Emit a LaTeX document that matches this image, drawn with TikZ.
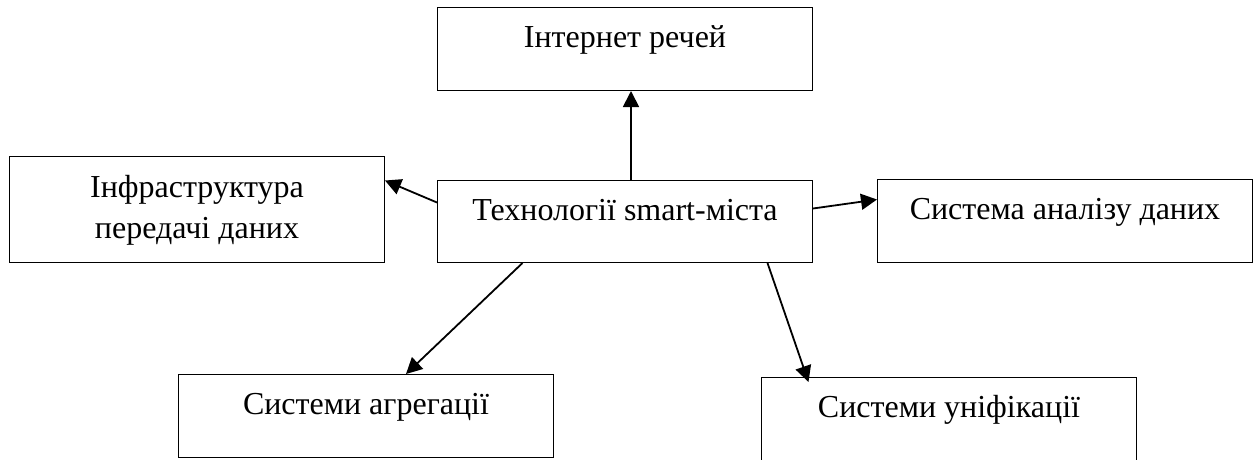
\documentclass[tikz,border=0pt]{standalone}
\usepackage{fontspec}
\setmainfont{Liberation Serif}
\usetikzlibrary{arrows.meta}

\tikzset{
    blok/.style={draw, line width=1pt, anchor=north west, inner sep=0pt,
        minimum width=375pt, text height=40pt, text depth=43pt,
        font=\fontsize{32}{41}\selectfont},
    strilka/.style={->, line width=1.8pt}
}

\begin{document}
\begin{tikzpicture}[x=1pt, y=-1pt, >={Triangle[length=16pt,width=16pt]}]
        \useasboundingbox (0,0) rectangle (1256,459);

        % Блоки
        \node[blok] (iot) at (437,7) {Інтернет речей};
        \node[blok, align=center, text height=82pt, text depth=24pt] (infra) at (9,156) {Інфраструктура\\передачі даних};
        \node[blok, text depth=42pt] (centr) at (437,180) {Технології smart-міста};
        \node[blok] (analiz) at (877,179) {Система аналізу даних};
        \node[blok] (agreg) at (178,374) {Системи агрегації};
        \node[blok] (unif) at (761,377) {Системи уніфікації};

        % Стрілки
        \draw[strilka] ([xshift=6pt]centr.north) -- ([xshift=6pt]iot.south);
        \draw[strilka] ([yshift=19pt]centr.west) -- ([yshift=29pt]infra.east);
        \draw[strilka] ([yshift=13pt]centr.east) -- ([yshift=21.5pt]analiz.west);
        \draw[strilka] ([xshift=-102.5pt]centr.south) -- ([xshift=40pt]agreg.north);
        \draw[strilka] ([xshift=142.5pt]centr.south) -- ([xshift=-140.5pt,yshift=-5pt]unif.north);

\end{tikzpicture}
\end{document}
